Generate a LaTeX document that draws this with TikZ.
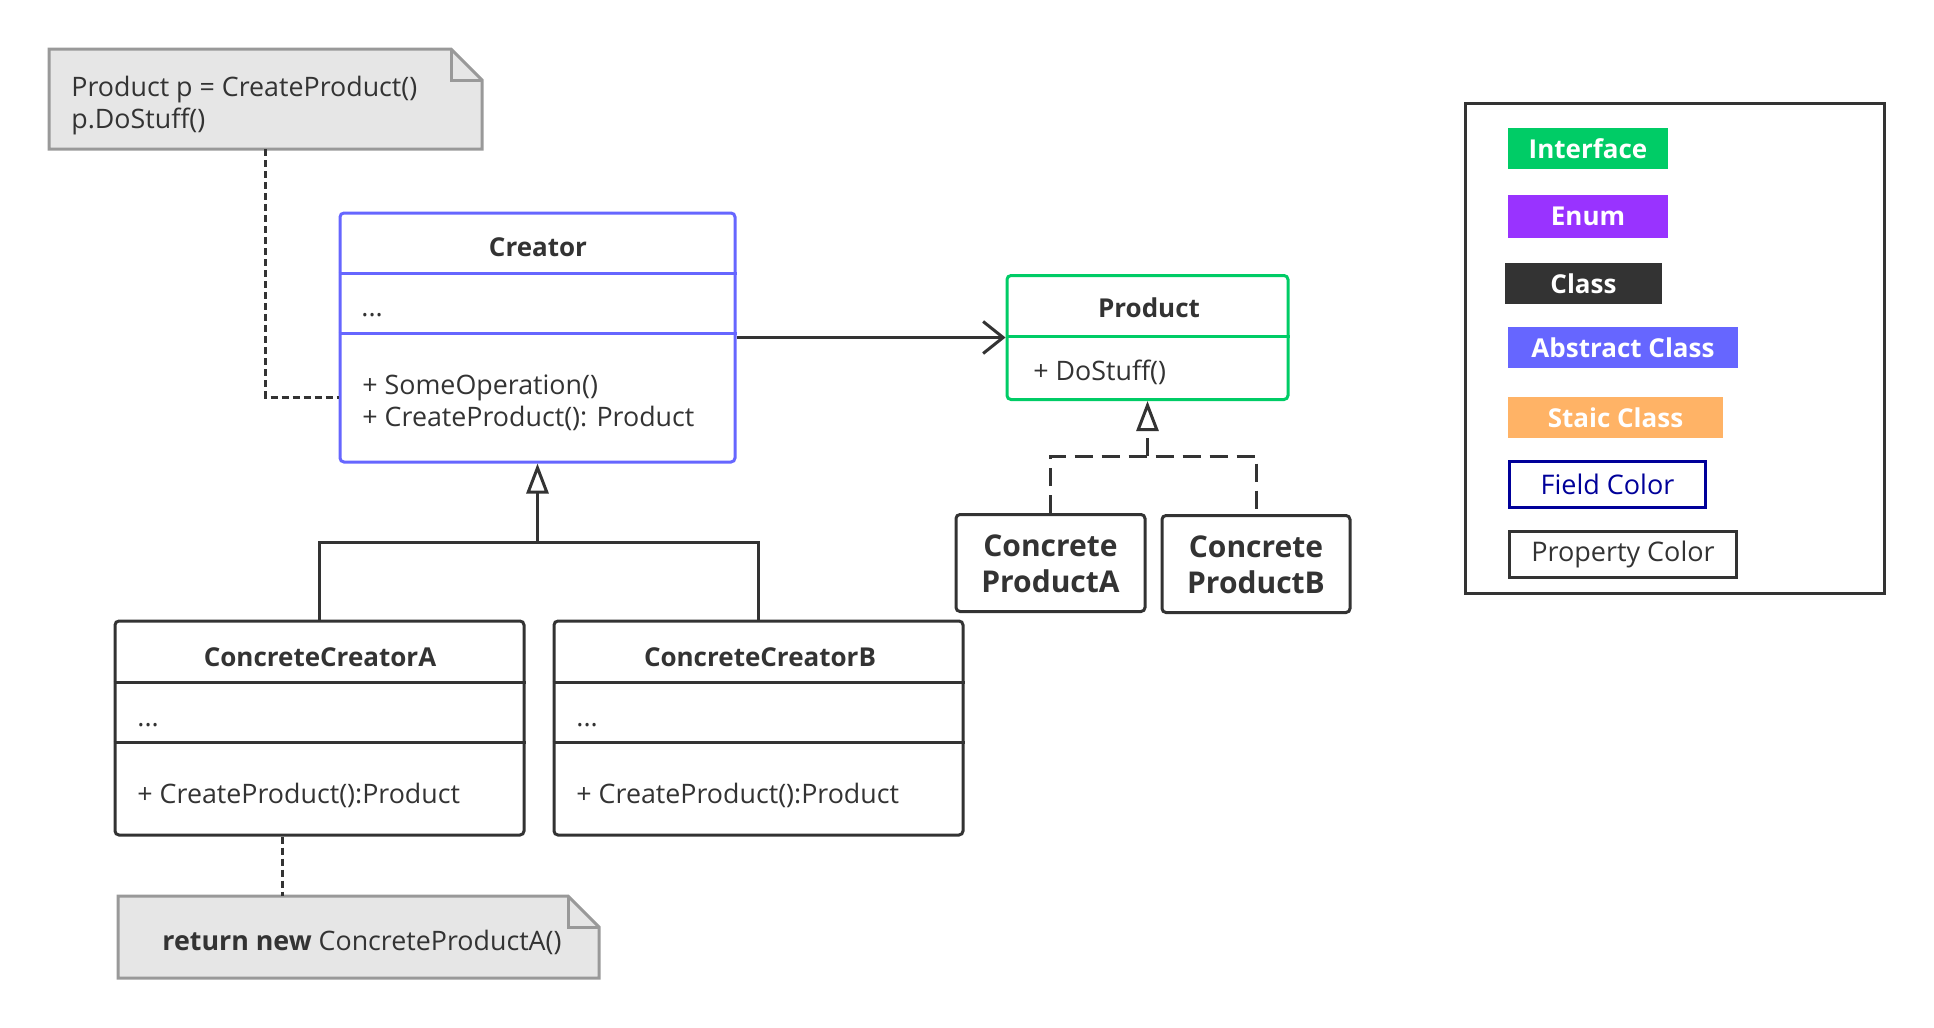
\documentclass[tikz,border=0pt]{standalone}
\usepackage{fontspec}
\setmainfont{Open Sans}
\usetikzlibrary{arrows.meta,calc}
\definecolor{dk}{HTML}{333333}
\definecolor{absc}{HTML}{6666FF}
\definecolor{intc}{HTML}{00CC66}
\definecolor{enumc}{HTML}{9933FF}
\definecolor{staticc}{HTML}{FFB366}
\definecolor{fieldc}{HTML}{000099}
\definecolor{notefill}{HTML}{E6E6E6}
\definecolor{noteline}{HTML}{999999}
\begin{document}
\begin{tikzpicture}[x=0.5pt,y=-0.5pt,
  box/.style={draw=dk, line width=1.5pt, rounded corners=2pt, inner sep=0pt, fill=white},
  blank/.style={inner sep=0pt, outer sep=0pt},
  txt/.style={inner sep=0pt, text=dk, font=\fontsize{13.4}{16}\selectfont},
  ttl/.style={inner sep=0pt, text=dk, font=\fontsize{13}{15}\selectfont\bfseries},
  big/.style={inner sep=0pt, text=dk, align=center, font=\fontsize{15}{18}\selectfont\bfseries},
  leg/.style={inner sep=0pt, text=white, font=\fontsize{13}{15}\selectfont\bfseries},
  link/.style={draw=dk, line width=1.5pt},
  dashlink/.style={draw=dk, line width=1.5pt, dash pattern=on 9pt off 4.5pt},
  notelink/.style={draw=dk, line width=1.5pt, dash pattern=on 3.5pt off 2pt},
  notebox/.style={draw=noteline, fill=notefill, line width=1.5pt},
  tri/.style={-{Triangle[open, length=15pt, width=11pt, line width=1.5pt]}},
  barb/.style={-{Straight Barb[length=10pt, width=16pt, line width=1.5pt]}}
]
\useasboundingbox (0,0) rectangle (1934,1028);

% ---------- notes ----------
\node[blank, minimum width=216.5pt, minimum height=50pt] (note1) at (265.5,99) {};
\draw[notebox] (note1.north west) -- ([xshift=-15.5pt]note1.north east)
  -- ([yshift=-15.5pt]note1.north east) -- (note1.south east) -- (note1.south west) -- cycle;
\draw[notebox, fill=none] ([xshift=-15.5pt]note1.north east) |- ([yshift=-15.5pt]note1.north east);
\node[txt, anchor=base west] (n1a) at (71,96) {Product p = CreateProduct()};
\node[txt, anchor=base west] (n1b) at (71,128) {p.DoStuff()};

\node[blank, minimum width=240.5pt, minimum height=41pt] (note2) at (358.5,937) {};
\draw[notebox] (note2.north west) -- ([xshift=-15.5pt]note2.north east)
  -- ([yshift=-15.5pt]note2.north east) -- (note2.south east) -- (note2.south west) -- cycle;
\draw[notebox, fill=none] ([xshift=-15.5pt]note2.north east) |- ([yshift=-15.5pt]note2.north east);
\node[txt, anchor=base west] (n2) at (162,950) {\textbf{return new} ConcreteProductA()};

% ---------- Creator ----------
\node[box, draw=absc, minimum width=197.5pt, minimum height=124.5pt] (creator) at (537.5,337.5) {};
\draw[absc, line width=1.5pt] (creator.west |- 0,273) -- (creator.east |- 0,273);
\draw[absc, line width=1.5pt] (creator.west |- 0,333) -- (creator.east |- 0,333);
\node[ttl, anchor=base] (crt) at (538,256) {Creator};
\node[txt, anchor=base west] (crf) at (361,316) {...};
\node[txt, anchor=base west] (crm1) at (362,394) {+ SomeOperation()};
\node[txt, anchor=base west] (crm2) at (362,426) {+ CreateProduct(): Product};

% ---------- Product ----------
\node[box, draw=intc, minimum width=140.5pt, minimum height=62pt] (product) at (1147.5,337.5) {};
\draw[intc, line width=1.5pt] (product.west |- 0,336) -- (product.east |- 0,336);
\node[ttl, anchor=base] (prt) at (1149,317) {Product};
\node[txt, anchor=base west] (prm) at (1033,380) {+ DoStuff()};

% ---------- Concrete creators ----------
\node[box, minimum width=204.5pt, minimum height=107pt] (cca) at (319.5,728) {};
\draw[dk, line width=1.5pt] (cca.west |- 0,682) -- (cca.east |- 0,682);
\draw[dk, line width=1.5pt] (cca.west |- 0,742) -- (cca.east |- 0,742);
\node[ttl, anchor=base] (ccat) at (320,666) {ConcreteCreatorA};
\node[txt, anchor=base west] (ccaf) at (137,726) {...};
\node[txt, anchor=base west] (ccam) at (137,803) {+ CreateProduct():Product};

\node[box, minimum width=204.5pt, minimum height=107pt] (ccb) at (758.5,728) {};
\draw[dk, line width=1.5pt] (ccb.west |- 0,682) -- (ccb.east |- 0,682);
\draw[dk, line width=1.5pt] (ccb.west |- 0,742) -- (ccb.east |- 0,742);
\node[ttl, anchor=base] (ccbt) at (760,666) {ConcreteCreatorB};
\node[txt, anchor=base west] (ccbf) at (576,726) {...};
\node[txt, anchor=base west] (ccbm) at (576,803) {+ CreateProduct():Product};

% ---------- Concrete products ----------
\node[box, minimum width=94.5pt, minimum height=48.5pt] (cpa) at (1050.5,563) {};
\node[big] (cpat) at (1050.5,564) {Concrete\\ProductA};
\node[box, minimum width=94pt, minimum height=48.5pt] (cpb) at (1256,564) {};
\node[big] (cpbt) at (1256,565) {Concrete\\ProductB};

% ---------- connectors ----------
\draw[link, barb] (creator.east) -- (product.west);

\coordinate (j) at (537.5,542);
\draw[link] (cca.north) |- (j) -| (ccb.north);
\draw[link, tri] (j) -- (creator.south);

\coordinate (k) at (1147.5,456);
\draw[dashlink] (cpa.north) |- (k) -| (cpb.north);
\draw[dashlink, tri] (k) -- (product.south);

\draw[notelink] (note1.south) |- ([yshift=-29.75pt]creator.west);
\draw[notelink] ([xshift=-18.75pt]cca.south) -- ([xshift=-18.75pt]cca.south |- note2.north);

% ---------- legend ----------
\node[draw=dk, line width=1.5pt, inner sep=0pt, minimum width=209.5pt, minimum height=245pt] (legend) at (1674.5,348) {};
\node[leg, fill=intc, minimum width=80pt, minimum height=20.5pt] (lint) at (1588,148.5) {\raisebox{-1.3pt}{Interface}};
\node[leg, fill=enumc, minimum width=80pt, minimum height=21.5pt] (lenum) at (1588,216.5) {\raisebox{-1.3pt}{Enum}};
\node[leg, fill=dk, minimum width=78.5pt, minimum height=20.5pt] (lcls) at (1583.5,283.5) {\raisebox{-1.3pt}{Class}};
\node[leg, fill=absc, minimum width=115pt, minimum height=20.5pt] (labs) at (1623,347.5) {\raisebox{-1.3pt}{Abstract Class}};
\node[leg, fill=staticc, minimum width=107.5pt, minimum height=20.5pt] (lsta) at (1615.5,417.5) {\raisebox{-1.3pt}{Staic Class}};
\node[draw=fieldc, line width=1.5pt, inner sep=0pt, text=fieldc, font=\fontsize{13.5}{15}\selectfont, minimum width=98pt, minimum height=23pt] (lfld) at (1607.5,484.5) {\raisebox{-1.3pt}{Field Color}};
\node[draw=dk, line width=1.5pt, inner sep=0pt, text=dk, font=\fontsize{13.5}{15}\selectfont, minimum width=113.5pt, minimum height=23pt] (lprop) at (1623,554.5) {\raisebox{-1.3pt}{Property Color}};
\end{tikzpicture}
\end{document}
